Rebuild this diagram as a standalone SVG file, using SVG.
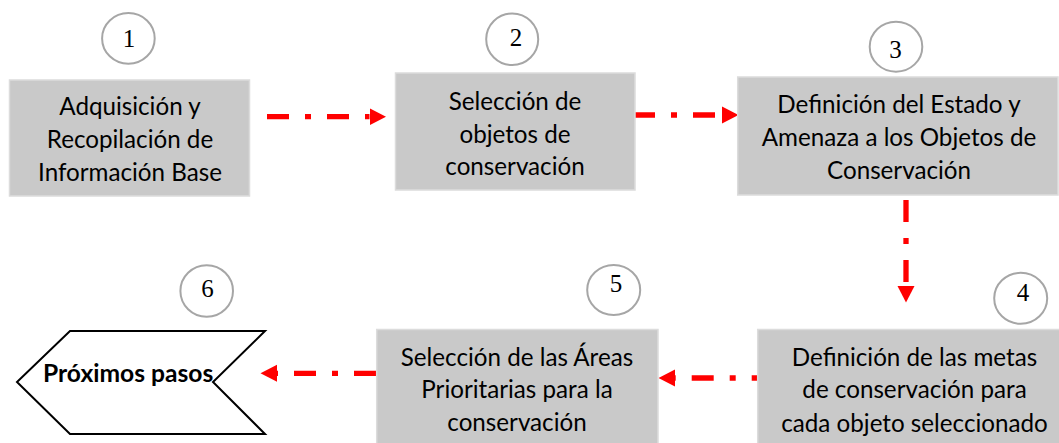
<svg xmlns="http://www.w3.org/2000/svg" width="1059" height="443" viewBox="0 0 1059 443">
<style>
.box{fill:#c9c9c9;stroke:#dcdcdc;stroke-width:1.5}
.lbl{font-family:Lato,"Open Sans",sans-serif;font-size:24.2px;fill:#000;text-anchor:middle}
.num{fill:#fff;stroke:#a6a6a6;stroke-width:2}
.numt{font-family:"Liberation Serif",serif;font-size:25px;fill:#000;text-anchor:middle}
.con{fill:none;stroke:#ff0000;stroke-width:5.3;stroke-dasharray:22 16 6 16}
</style>
<defs>
<marker id="ah" markerUnits="userSpaceOnUse" markerWidth="17" markerHeight="18" refX="0" refY="8.5" orient="auto" viewBox="0 0 17 17">
<path d="M0,0 L16.5,8.5 L0,17 z" fill="#ff0000"/>
</marker>
</defs>
<rect width="1059" height="443" fill="#fff"/>
<g id="connectors">
<path class="con" d="M267,116.7 L369.5,116.7" marker-end="url(#ah)"/>
<path class="con" d="M633,115 L722,115" marker-end="url(#ah)"/>
<path class="con" d="M906,200 L906,286" marker-end="url(#ah)"/>
<path class="con" style="stroke-dashoffset:16" d="M757.7,378 L675,378" marker-end="url(#ah)"/>
<path class="con" d="M376,373.3 L277,373.3" marker-end="url(#ah)"/>
</g>
<g id="node1">
<rect class="box" x="9.5" y="80" width="240" height="116"/>
<text class="lbl" x="130" y="115">Adquisición y</text>
<text class="lbl" x="130" y="148">Recopilación de</text>
<text class="lbl" x="130" y="181">Información Base</text>
</g>
<g id="node2">
<rect class="box" x="395.5" y="73" width="239.5" height="117"/>
<text class="lbl" x="515" y="110">Selección de</text>
<text class="lbl" x="515" y="142.5">objetos de</text>
<text class="lbl" x="515" y="175">conservación</text>
</g>
<g id="node3">
<rect class="box" x="737.7" y="77" width="320.3" height="118"/>
<text class="lbl" x="899" y="113">Definición del Estado y</text>
<text class="lbl" x="899" y="146">Amenaza a los Objetos de</text>
<text class="lbl" x="899" y="179">Conservación</text>
</g>
<g id="node4">
<rect class="box" x="757.7" y="329.5" width="315" height="120"/>
<text class="lbl" x="914.5" y="365.7">Definición de las metas</text>
<text class="lbl" x="914.5" y="398.3">de conservación para</text>
<text class="lbl" x="914.5" y="431.7">cada objeto seleccionado</text>
</g>
<g id="node5">
<rect class="box" x="376.7" y="329.5" width="281.3" height="120"/>
<text class="lbl" x="517" y="366">Selección de las Áreas</text>
<text class="lbl" x="517" y="398">Prioritarias para la</text>
<text class="lbl" x="517" y="430.7">conservación</text>
</g>
<g id="node6">
<polygon points="70,331 265,331 213,382 265,434 70,434 17,382" fill="#fff" stroke="#000" stroke-width="2"/>
<text x="43" y="381.7" style="font-family:Lato,'Open Sans',sans-serif;font-size:24.6px;font-weight:bold;fill:#000">Próximos pasos</text>
</g>
<g id="badge1"><ellipse class="num" cx="128.4" cy="38.4" rx="26.3" ry="25.3"/><text class="numt" x="129" y="46.7">1</text></g>
<g id="badge2"><ellipse class="num" cx="512.2" cy="39.2" rx="26" ry="25.8"/><text class="numt" x="516" y="46">2</text></g>
<g id="badge3"><ellipse class="num" cx="896" cy="46.7" rx="26.3" ry="25"/><text class="numt" x="895.5" y="58.3">3</text></g>
<g id="badge4"><ellipse class="num" cx="1020.7" cy="298.3" rx="26.5" ry="25.5"/><text class="numt" x="1023" y="300.7">4</text></g>
<g id="badge5"><ellipse class="num" cx="613.7" cy="290" rx="26.5" ry="25"/><text class="numt" x="616" y="291.7">5</text></g>
<g id="badge6"><ellipse class="num" cx="206.7" cy="291" rx="26.3" ry="25.8"/><text class="numt" x="207.5" y="297.3">6</text></g>
</svg>
